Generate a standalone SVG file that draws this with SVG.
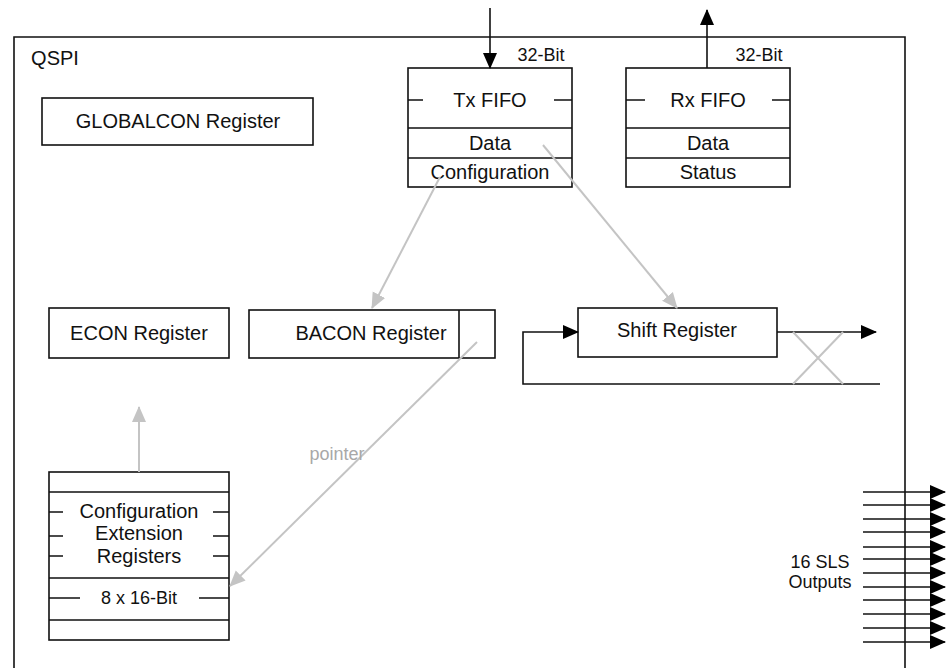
<svg xmlns="http://www.w3.org/2000/svg" width="950" height="668" viewBox="0 0 950 668">
<style>
.bx{fill:#fff;stroke:#111;stroke-width:1.6}
.ln{fill:none;stroke:#111;stroke-width:1.6}
.gl{fill:none;stroke:#c4c4c4;stroke-width:2}
.t{font-family:"Liberation Sans",Arial,sans-serif;font-size:20px;fill:#111;text-anchor:middle}
.s{font-size:18px}
</style>
<defs>
<marker id="ab" markerUnits="userSpaceOnUse" markerWidth="16" markerHeight="16" viewBox="0 0 16 16" refX="15" refY="8" orient="auto"><path d="M0,1 L16,8 L0,15 Z" fill="#000"/></marker>
<marker id="ag" markerUnits="userSpaceOnUse" markerWidth="16" markerHeight="16" viewBox="0 0 16 16" refX="15" refY="8" orient="auto"><path d="M0,1 L16,8 L0,15 Z" fill="#c4c4c4"/></marker>
</defs>
<rect width="950" height="668" fill="#fff"/>
<g id="qspi">
<path class="ln" d="M14,668 V37 H905 V668"/>
<text class="t" x="55" y="65">QSPI</text>
</g>
<g id="globalcon">
<rect class="bx" x="42" y="98" width="271" height="47"/>
<text class="t" x="178" y="128">GLOBALCON Register</text>
</g>
<g id="txfifo">
<rect class="bx" x="408" y="68" width="164" height="119"/>
<path class="ln" d="M408,128 H572 M408,158 H572 M408,100 H423 M554,100 H572"/>
<text class="t" x="490" y="107">Tx FIFO</text>
<text class="t" x="490" y="150">Data</text>
<text class="t" x="490" y="179">Configuration</text>
<text class="t s" x="541" y="61">32-Bit</text>
</g>
<g id="rxfifo">
<rect class="bx" x="626" y="68" width="164" height="119"/>
<path class="ln" d="M626,128 H790 M626,158 H790 M626,100 H645 M772,100 H790"/>
<text class="t" x="708" y="107">Rx FIFO</text>
<text class="t" x="708" y="150">Data</text>
<text class="t" x="708" y="179">Status</text>
<text class="t s" x="759" y="61">32-Bit</text>
</g>
<g id="econ">
<rect class="bx" x="49" y="308" width="180" height="50"/>
<text class="t" x="139" y="340">ECON Register</text>
</g>
<g id="bacon">
<rect class="bx" x="249" y="310" width="246" height="48"/>
<path class="ln" d="M459,310 V358"/>
<text class="t" x="371" y="340">BACON Register</text>
</g>
<g id="shift">
<rect class="bx" x="578" y="308" width="199" height="49"/>
<text class="t" x="677" y="337">Shift Register</text>
</g>
<g id="cer">
<rect class="bx" x="49" y="472" width="180" height="168"/>
<path class="ln" d="M49,492 H229 M49,578 H229 M49,620 H229 M49,512 H63 M213,512 H229 M49,536 H63 M213,536 H229 M49,556 H63 M213,556 H229 M49,598 H80 M199,598 H229"/>
<text class="t" x="139" y="518">Configuration</text>
<text class="t" x="139" y="540">Extension</text>
<text class="t" x="139" y="563">Registers</text>
<text class="t s" x="139" y="604">8 x 16-Bit</text>
</g>
<g id="outputs">
<text class="t s" x="820" y="568">16 SLS</text>
<text class="t s" x="820" y="588">Outputs</text>
<g marker-end="url(#ab)" class="ln">
<path d="M863,492 H945"/><path d="M863,505 H945"/><path d="M863,519 H945"/><path d="M863,532 H945"/>
<path d="M863,547 H945"/><path d="M863,559 H945"/><path d="M863,573 H945"/><path d="M863,587 H945"/>
<path d="M863,600 H945"/><path d="M863,614 H945"/><path d="M863,628 H945"/><path d="M863,642 H945"/>
</g>
</g>
<g id="connectors">
<path class="ln" d="M490,8 V68" marker-end="url(#ab)"/>
<path class="ln" d="M707,68 V10" marker-end="url(#ab)"/>
<path class="ln" d="M777,332 H876" marker-end="url(#ab)"/>
<path class="ln" d="M880,384 H523 V332 H578" marker-end="url(#ab)"/>
<path class="gl" d="M793,332 L843,384 M843,332 L793,384"/>
<path class="gl" d="M440,177 L372,308" marker-end="url(#ag)"/>
<path class="gl" d="M543,145 L677,308" marker-end="url(#ag)"/>
<path class="gl" d="M139,472 V407" marker-end="url(#ag)"/>
<path class="gl" d="M477,342 L230,586" marker-end="url(#ag)"/>
<text class="t s" x="337" y="460" style="fill:#a8a8a8">pointer</text>
</g>
</svg>
